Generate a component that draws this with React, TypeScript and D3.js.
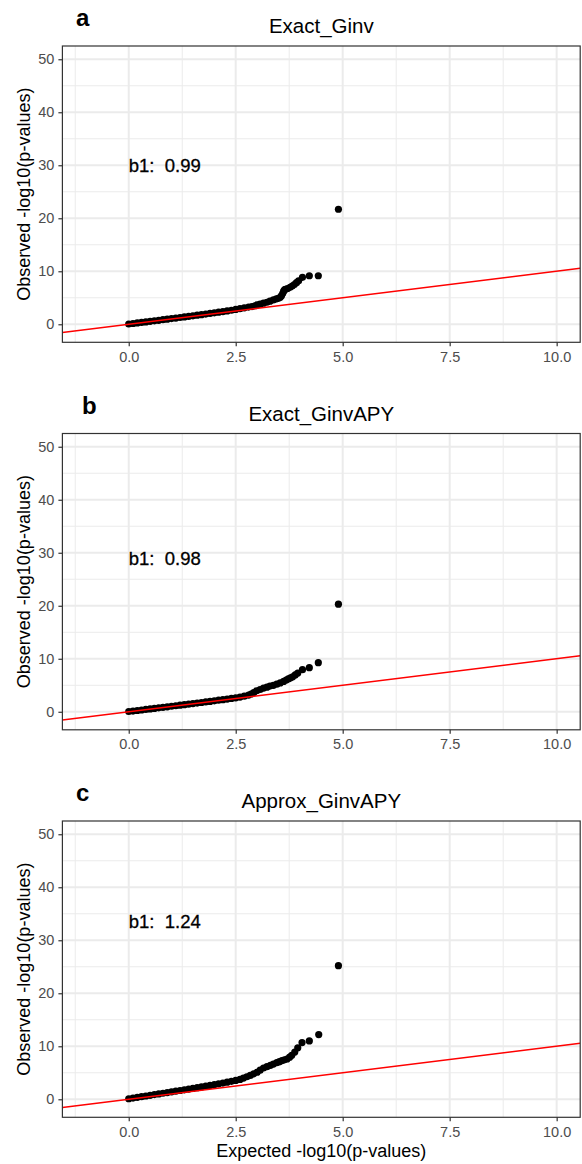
import { useRef, useEffect } from 'react';
import * as d3 from 'd3';

// expected / observed -log10(p)
const expectedA = [0, 0.1, 0.2, 0.3, 0.4, 0.5, 0.6, 0.7, 0.8, 0.9, 1.0, 1.1, 1.2, 1.3, 1.4, 1.5, 1.6, 1.7, 1.8, 1.9, 2.0, 2.1, 2.2, 2.3, 2.4, 2.5, 2.6, 2.7, 2.8, 2.88, 2.95, 3.0, 3.07, 3.15, 3.23, 3.3, 3.38, 3.45, 3.5, 3.54, 3.57, 3.6, 3.62, 3.64, 3.66, 3.71, 3.77, 3.82, 3.87, 3.92, 3.97, 4.06, 4.22, 4.43, 4.9];
const observedA = [0.05, 0.15, 0.25, 0.35, 0.45, 0.55, 0.65, 0.75, 0.86, 0.96, 1.07, 1.17, 1.28, 1.38, 1.49, 1.6, 1.71, 1.82, 1.93, 2.04, 2.16, 2.28, 2.4, 2.52, 2.65, 2.8, 2.95, 3.1, 3.25, 3.34, 3.5, 3.65, 3.79, 3.98, 4.16, 4.35, 4.6, 4.8, 4.9, 5.1, 5.4, 5.85, 6.25, 6.5, 6.6, 6.75, 6.97, 7.2, 7.5, 7.85, 8.2, 8.85, 9.16, 9.16, 21.7];

const expectedB = [0, 0.1, 0.2, 0.3, 0.4, 0.5, 0.6, 0.7, 0.8, 0.9, 1.0, 1.1, 1.2, 1.3, 1.4, 1.5, 1.6, 1.7, 1.8, 1.9, 2.0, 2.1, 2.2, 2.3, 2.4, 2.5, 2.6, 2.7, 2.8, 2.86, 2.92, 2.99, 3.07, 3.15, 3.23, 3.3, 3.38, 3.46, 3.54, 3.62, 3.68, 3.73, 3.78, 3.83, 3.89, 3.95, 4.06, 4.22, 4.43, 4.9];
const observedB = [0.05, 0.14, 0.24, 0.34, 0.44, 0.54, 0.64, 0.74, 0.84, 0.94, 1.04, 1.14, 1.24, 1.34, 1.44, 1.54, 1.65, 1.75, 1.86, 1.96, 2.07, 2.18, 2.29, 2.4, 2.52, 2.64, 2.78, 2.95, 3.15, 3.35, 3.6, 3.97, 4.2, 4.47, 4.65, 4.85, 5.0, 5.2, 5.45, 5.73, 6.0, 6.2, 6.4, 6.6, 6.95, 7.3, 7.94, 8.32, 9.26, 20.3];

const expectedC = [0, 0.1, 0.2, 0.3, 0.4, 0.5, 0.6, 0.7, 0.8, 0.9, 1.0, 1.1, 1.2, 1.3, 1.4, 1.5, 1.6, 1.7, 1.8, 1.9, 2.0, 2.1, 2.2, 2.3, 2.4, 2.5, 2.6, 2.68, 2.76, 2.84, 2.92, 3.0, 3.07, 3.15, 3.23, 3.31, 3.38, 3.46, 3.52, 3.58, 3.64, 3.7, 3.76, 3.81, 3.88, 3.95, 4.05, 4.22, 4.44, 4.9];
const observedC = [0.1, 0.23, 0.36, 0.49, 0.62, 0.75, 0.88, 1.01, 1.14, 1.27, 1.4, 1.53, 1.66, 1.79, 1.92, 2.05, 2.19, 2.33, 2.47, 2.61, 2.76, 2.91, 3.06, 3.22, 3.39, 3.56, 3.75, 4.0, 4.25, 4.5, 4.8, 5.1, 5.5, 5.9, 6.15, 6.4, 6.65, 6.9, 7.1, 7.3, 7.45, 7.6, 7.95, 8.3, 8.9, 9.7, 10.7, 11.0, 12.2, 25.2];

const tags = ['a', 'b', 'c'];
const titles = ['Exact_Ginv', 'Exact_GinvAPY', 'Approx_GinvAPY'];
const slopes = ['0.99', '0.98', '1.24'];
const slopeLabelY = [30, 29, 33.6];

const xTicks = [0, 2.5, 5, 7.5, 10];
const xMinor = [-1.25, 1.25, 3.75, 6.25, 8.75];
const yTicks = [0, 10, 20, 30, 40, 50];
const yMinor = [5, 15, 25, 35, 45];

const FONT = '"Liberation Sans", Arial, sans-serif';

function QQPanels() {
  const svgRef = useRef<SVGSVGElement | null>(null);
  const width = 582;
  const height = 1164;

  useEffect(() => {
    const svg = d3.select(svgRef.current);
    svg.selectAll('*').remove();

    const left = 62.4;
    const right = 580.2;
    const panelH = 296.3;
    const step = 387.5;
    const firstTop = 46;

    const series = [
      { x: expectedA, y: observedA },
      { x: expectedB, y: observedB },
      { x: expectedC, y: observedC },
    ];

    const x = d3.scaleLinear().domain([-1.55, 10.55]).range([left, right]);

    series.forEach((s, i) => {
      const top = firstTop + i * step;
      const bottom = top + panelH;
      const y = d3.scaleLinear().domain([-3.4, 52.5]).range([bottom, top]);
      const g = svg.append('g');

      const clipId = `clip-${i}`;
      g.append('clipPath')
        .attr('id', clipId)
        .append('rect')
        .attr('x', left)
        .attr('y', top)
        .attr('width', right - left)
        .attr('height', panelH);

      g.append('rect')
        .attr('x', left)
        .attr('y', top)
        .attr('width', right - left)
        .attr('height', panelH)
        .attr('fill', '#fff');

      // minor grid
      g.selectAll('.xminor')
        .data(xMinor)
        .join('line')
        .attr('x1', (d) => x(d))
        .attr('x2', (d) => x(d))
        .attr('y1', top)
        .attr('y2', bottom)
        .attr('stroke', '#ebebeb')
        .attr('stroke-width', 1);
      g.selectAll('.yminor')
        .data(yMinor)
        .join('line')
        .attr('x1', left)
        .attr('x2', right)
        .attr('y1', (d) => y(d))
        .attr('y2', (d) => y(d))
        .attr('stroke', '#ebebeb')
        .attr('stroke-width', 1);

      // major grid
      g.selectAll('.xmajor')
        .data(xTicks)
        .join('line')
        .attr('x1', (d) => x(d))
        .attr('x2', (d) => x(d))
        .attr('y1', top)
        .attr('y2', bottom)
        .attr('stroke', '#ebebeb')
        .attr('stroke-width', 2);
      g.selectAll('.ymajor')
        .data(yTicks)
        .join('line')
        .attr('x1', left)
        .attr('x2', right)
        .attr('y1', (d) => y(d))
        .attr('y2', (d) => y(d))
        .attr('stroke', '#ebebeb')
        .attr('stroke-width', 2);

      const pts = s.x.map((v, k) => ({ e: v, o: s.y[k] }));
      g.append('g')
        .attr('clip-path', `url(#${clipId})`)
        .selectAll('circle')
        .data(pts)
        .join('circle')
        .attr('cx', (d) => x(d.e))
        .attr('cy', (d) => y(d.o))
        .attr('r', 3.6)
        .attr('fill', '#000');

      // y = x reference line
      const line = d3
        .line<number>()
        .x((d) => x(d))
        .y((d) => y(d));
      g.append('path')
        .datum([-1.55, 10.55])
        .attr('clip-path', `url(#${clipId})`)
        .attr('fill', 'none')
        .attr('stroke', '#ff0000')
        .attr('stroke-width', 1.5)
        .attr('d', line);

      g.append('text')
        .attr('x', x(0))
        .attr('y', y(slopeLabelY[i]))
        .attr('dy', '0.35em')
        .attr('font-family', FONT)
        .attr('font-size', 18.5)
        .attr('fill', '#000')
        .attr('stroke', '#000')
        .attr('stroke-width', 0.3)
        .style('white-space', 'pre')
        .text(`b1:  ${slopes[i]}`);

      g.append('rect')
        .attr('x', left)
        .attr('y', top)
        .attr('width', right - left)
        .attr('height', panelH)
        .attr('fill', 'none')
        .attr('stroke', '#333333')
        .attr('stroke-width', 1.2);

      // axes
      const xAxis = g
        .append('g')
        .attr('transform', `translate(0,${bottom})`)
        .call(
          d3
            .axisBottom(x)
            .tickValues(xTicks)
            .tickFormat(d3.format('.1f'))
            .tickSize(4)
            .tickPadding(5)
        );
      const yAxis = g
        .append('g')
        .attr('transform', `translate(${left},0)`)
        .call(d3.axisLeft(y).tickValues(yTicks).tickSize(4).tickPadding(4));

      [xAxis, yAxis].forEach((ax) => {
        ax.select('.domain').remove();
        ax.selectAll('.tick line').attr('stroke', '#333333').attr('stroke-width', 1.2);
        ax.selectAll('.tick text')
          .attr('fill', '#4d4d4d')
          .attr('font-family', FONT)
          .attr('font-size', 14.5);
      });

      g.append('text')
        .attr('x', 30)
        .attr('y', (top + bottom) / 2)
        .attr('transform', `rotate(-90,30,${(top + bottom) / 2})`)
        .attr('text-anchor', 'middle')
        .attr('font-family', FONT)
        .attr('font-size', 18)
        .attr('fill', '#000')
        .text('Observed -log10(p-values)');

      g.append('text')
        .attr('x', (left + right) / 2)
        .attr('y', top - 13)
        .attr('text-anchor', 'middle')
        .attr('font-family', FONT)
        .attr('font-size', 20.5)
        .attr('fill', '#000')
        .text(titles[i]);

      g.append('text')
        .attr('x', i === 1 ? 82 : 76)
        .attr('y', top - 20)
        .attr('font-family', FONT)
        .attr('font-size', 24)
        .attr('font-weight', 'bold')
        .attr('fill', '#000')
        .text(tags[i]);

      if (i === 2) {
        svg
          .append('text')
          .attr('x', (left + right) / 2)
          .attr('y', 1157)
          .attr('text-anchor', 'middle')
          .attr('font-family', FONT)
          .attr('font-size', 18)
          .attr('fill', '#000')
          .text('Expected -log10(p-values)');
      }
    });
  }, []);

  return (
    <svg
      ref={svgRef}
      width={width}
      height={height}
      style={{ position: 'absolute', left: 0, top: 0, background: '#fff' }}
    />
  );
}

export default function App() {
  return <QQPanels />;
}
